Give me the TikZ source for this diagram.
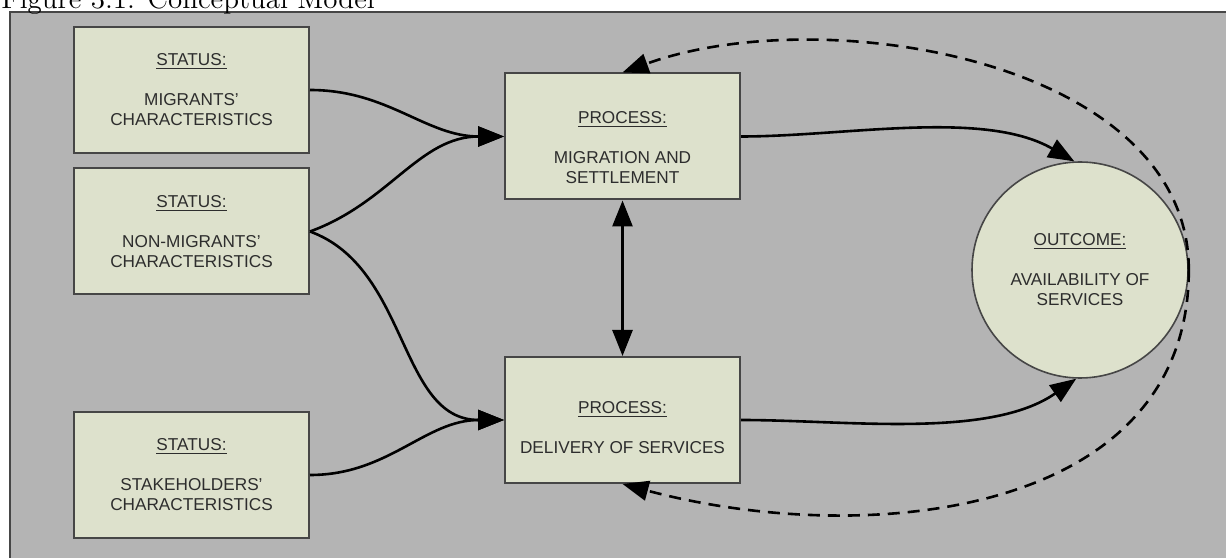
\documentclass[tikz,border=0pt]{standalone}
\usepackage{fontspec}
\setsansfont{Liberation Sans}
\usepackage{tikz}
\usetikzlibrary{arrows.meta,positioning}
\definecolor{bggray}{RGB}{180,180,180}
\definecolor{boxfill}{RGB}{221,225,204}
\definecolor{boxline}{RGB}{70,70,70}
\definecolor{textgray}{RGB}{45,45,45}

\begin{document}
\begin{tikzpicture}[->,>={Triangle[length=13pt,width=10pt]},line width=1.3pt,
x=0.5pt,y=0.5pt,node distance=70.75pt]
\tikzstyle{every node}=[font=\sffamily\fontsize{8.6}{10}\selectfont,text=textgray]
\tikzstyle{factor}=[rectangle,fill=boxfill,draw=boxline,line width=1pt,minimum width=117.5pt,minimum height=63pt,align=center,inner sep=0pt]
\tikzstyle{result}=[circle,fill=boxfill,draw=boxline,line width=0.8pt,minimum size=108pt,align=center,inner sep=0pt]
\tikzstyle{feedback}=[dash pattern=on 6pt off 4pt]

\useasboundingbox (0,0) rectangle (1226,557);
\fill[bggray] (10,545) rectangle (1240,-10);
\draw[-,boxline,line width=1pt] (10,-10) -- (10,545) -- (1240,545);
\node[anchor=base west,inner sep=0pt,font=\fontsize{14.5}{16}\selectfont,text=black] (caption) at (0,548) {Figure 3.1: Conceptual Model};

\node[factor] (migr)                    at (191.5,467) {\underline{STATUS:}\\[10pt]MIGRANTS'\\CHARACTERISTICS};
\node[factor] (nonmigr) [below of=migr]                {\underline{STATUS:}\\[10pt]NON-MIGRANTS'\\CHARACTERISTICS};
\node[factor] (stake)   [below of=nonmigr,node distance=121.75pt] {\underline{STATUS:}\\[10pt]STAKEHOLDERS'\\CHARACTERISTICS};
\node[factor,text height=47pt] (settle)  at (622.5,420.5) {\underline{PROCESS:}\\[10pt]MIGRATION AND\\SETTLEMENT};
\node[factor,text height=34pt] (deliv)   [below of=settle,node distance=141.75pt] {\underline{PROCESS:}\\[10pt]DELIVERY OF SERVICES};
\node[result] (avail)                   at (1080,287) {\underline{OUTCOME:}\\[10pt]AVAILABILITY OF\\SERVICES};

\path (migr.east)    edge [out=0,in=180]   (settle.west)
      (nonmigr.east) edge [out=20,in=180]  (settle.west)
      (nonmigr.east) edge [out=-20,in=180] (deliv.west)
      (stake.east)   edge [out=0,in=180]   (deliv.west)
      (settle.south) edge [<->]            (deliv.north)
      (settle.east)  edge [out=0,in=150,looseness=0.8] (avail.93)
      (deliv.east)   edge [out=0,in=215,looseness=0.8] (avail.268);
\path[feedback] (avail.east) edge [out=90,in=20,looseness=0.9]    (settle.north)
      (avail.east) edge [out=-90,in=-15,looseness=1.05] (deliv.south);
\end{tikzpicture}
\end{document}
